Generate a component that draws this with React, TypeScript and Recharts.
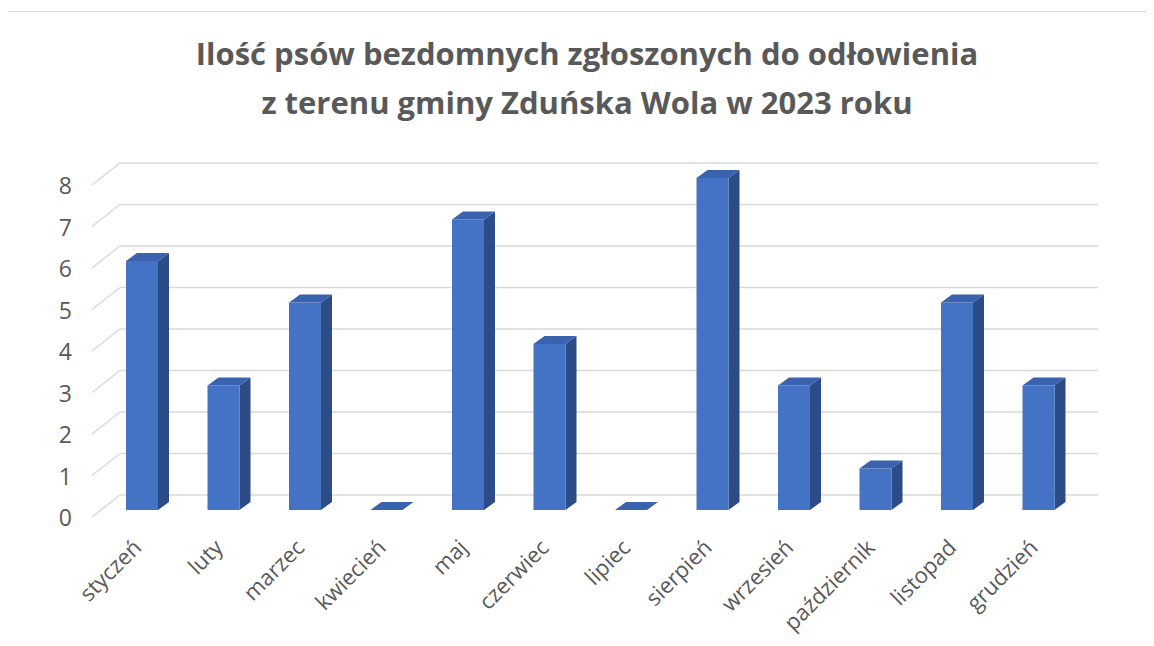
import React from "react";
import { BarChart, Bar, XAxis, YAxis, CartesianGrid } from "recharts";

// months and number of reported dogs
const months: string[] = [
  "styczeń",
  "luty",
  "marzec",
  "kwiecień",
  "maj",
  "czerwiec",
  "lipiec",
  "sierpień",
  "wrzesień",
  "październik",
  "listopad",
  "grudzień",
];
const dogs: number[] = [6, 3, 5, 0, 7, 4, 0, 8, 3, 1, 5, 3];
const yTicks: number[] = [0, 1, 2, 3, 4, 5, 6, 7, 8];

const data = months.map((m, i) => ({ month: m, value: dogs[i] }));

const FONT = "'Open Sans', 'DejaVu Sans', sans-serif";
const TEXT = "#595959";
const FRONT = "#4472C4";
const TOP = "#3A62AE";
const SIDE = "#2B4C87";

// depth of the box and of the floor / back wall
const DX = 11;
const DY = 8;
const WALL_DX = 19;
const WALL_DY = -15;
const FLOOR_DX = -9;
const FLOOR_DY = 7;

const Box3D = (props: any) => {
  const { x, y, width, height } = props;
  const h = Math.max(0, height || 0);
  const top = `${x},${y} ${x + DX},${y - DY} ${x + width + DX},${y - DY} ${x + width},${y}`;
  const side = `${x + width},${y} ${x + width + DX},${y - DY} ${x + width + DX},${y + h - DY} ${x + width},${y + h}`;
  return (
    <g>
      {h > 0 && <polygon points={side} fill={SIDE} />}
      {h > 0 && <rect x={x} y={y} width={width} height={h} fill={FRONT} />}
      <polygon points={top} fill={TOP} />
    </g>
  );
};

// grid line on the back wall, plus the slanted piece over the left side wall
const WallLine = (props: any) => {
  const { x1, x2, y1 } = props;
  return (
    <g>
      <line
        x1={x1 + FLOOR_DX}
        y1={y1 + FLOOR_DY}
        x2={x1 + WALL_DX}
        y2={y1 + WALL_DY}
        stroke="#d9d9d9"
        strokeWidth={1.5}
      />
      <line
        x1={x1 + WALL_DX}
        y1={y1 + WALL_DY}
        x2={x2 + WALL_DX}
        y2={y1 + WALL_DY}
        stroke="#d9d9d9"
        strokeWidth={1.5}
      />
    </g>
  );
};

const YTick = (props: any) => {
  const { y, payload } = props;
  return (
    <text
      x={72}
      y={y + FLOOR_DY}
      textAnchor="end"
      dominantBaseline="central"
      fill={TEXT}
      style={{ fontSize: 23, fontFamily: FONT }}
    >
      {payload.value}
    </text>
  );
};

const XTick = (props: any) => {
  const { x, y, payload } = props;
  const tx = x + 1;
  const ty = y + 31;
  return (
    <text
      x={tx}
      y={ty}
      textAnchor="end"
      transform={`rotate(-45 ${tx} ${ty})`}
      fill={TEXT}
      style={{ fontSize: 22, fontFamily: FONT }}
    >
      {payload.value}
    </text>
  );
};

export default function App() {
  return (
    <div
      style={{
        position: "relative",
        width: 1154,
        height: 646,
        margin: -8,
        background: "#fff",
        overflow: "hidden",
      }}
    >
      <div
        style={{
          position: "absolute",
          left: 7,
          top: 11,
          width: 1160,
          height: 650,
          borderTop: "1.5px solid #d9d9d9",
          borderLeft: "1.5px solid #d9d9d9",
        }}
      />
      <div
        style={{
          position: "absolute",
          left: 0,
          width: 1174,
          top: 29,
          textAlign: "center",
          fontFamily: FONT,
          fontWeight: 700,
          fontSize: 31,
          lineHeight: "49px",
          color: TEXT,
        }}
      >
        Ilość psów bezdomnych zgłoszonych do odłowienia
        <br />z terenu gminy Zduńska Wola w 2023 roku
      </div>
      <div style={{ position: "absolute", left: 0, top: 0 }}>
        <BarChart
          width={1154}
          height={646}
          data={data}
          margin={{ top: 178, right: 75, bottom: 0, left: 0 }}
        >
          <CartesianGrid vertical={false} horizontal={WallLine} />
          <YAxis
            domain={[0, 8]}
            ticks={yTicks}
            width={101}
            axisLine={false}
            tickLine={false}
            tick={YTick}
            interval={0}
          />
          <XAxis
            dataKey="month"
            axisLine={false}
            tickLine={false}
            tick={XTick}
            interval={0}
            height={136}
          />
          <Bar
            dataKey="value"
            barSize={32}
            shape={Box3D}
            isAnimationActive={false}
          />
        </BarChart>
      </div>
    </div>
  );
}
